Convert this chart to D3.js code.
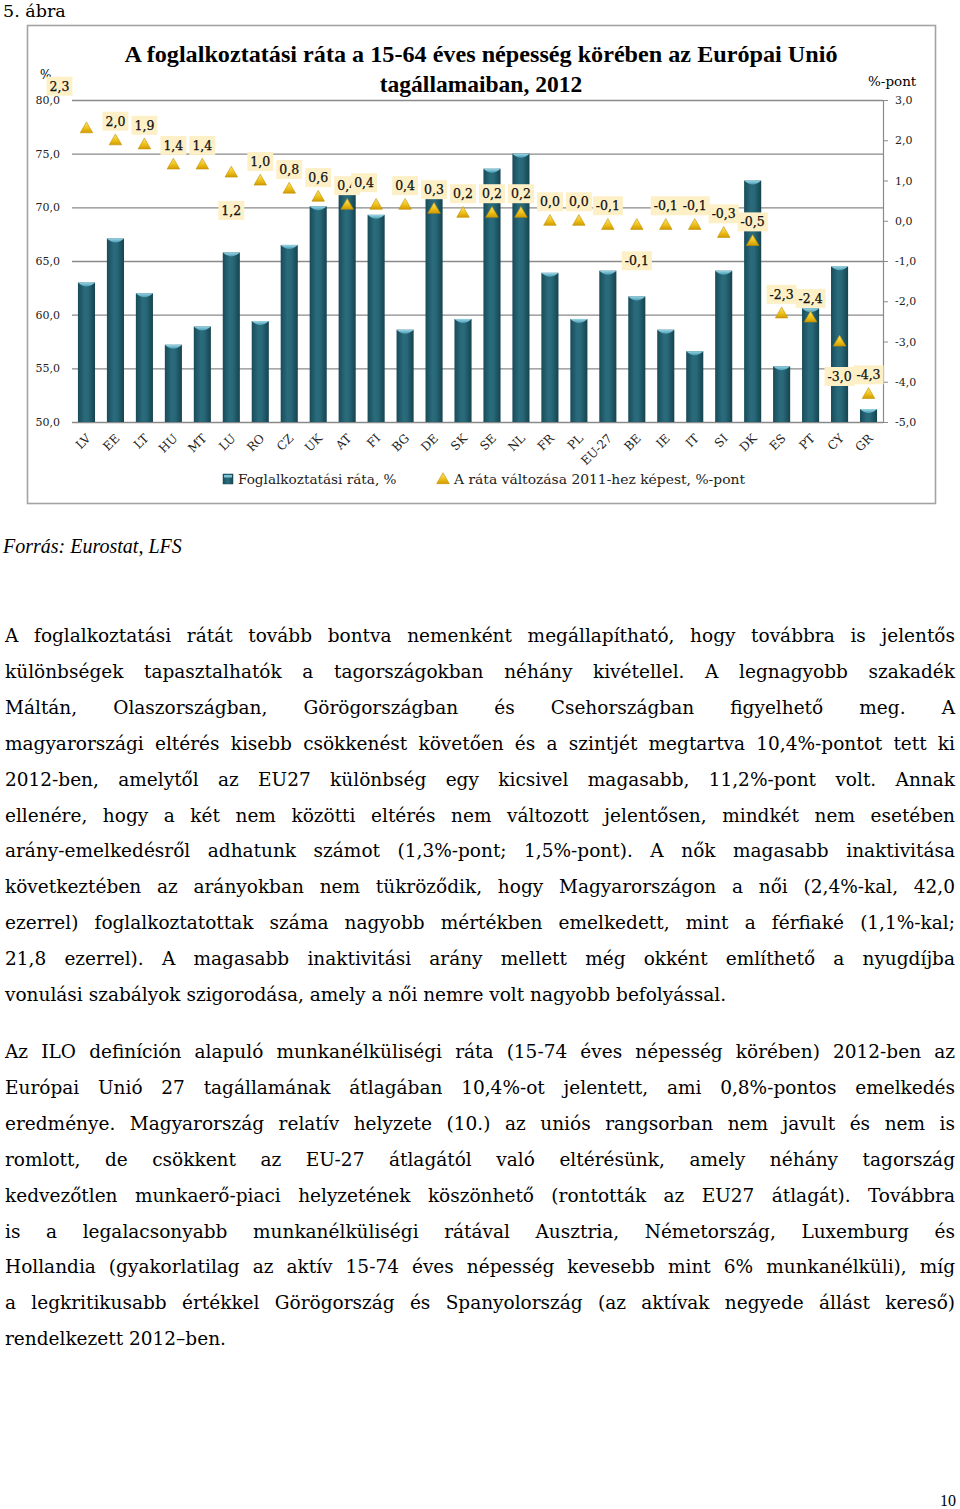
<!DOCTYPE html>
<html><head><meta charset="utf-8">
<script src="https://cdn.jsdelivr.net/npm/d3@7"></script>
<style>
body{margin:0;width:960px;height:1509px;background:#fff;position:relative;overflow:hidden;font-family:"DejaVu Serif",serif;color:#000;}
#chart{position:absolute;left:0;top:0;}
.line{position:absolute;left:5px;width:950px;white-space:nowrap;text-align:justify;text-align-last:justify;font-size:18.5px;line-height:24px;}
.line.last{text-align-last:left;}
#measure{position:absolute;visibility:hidden;white-space:nowrap;font-size:18.5px;}
</style></head><body>
<svg id="chart" width="960" height="1509"></svg>
<div id="text"></div>
<span id="measure"></span>
<script>
// ---------- data ----------
const categories = ["LV","EE","LT","HU","MT","LU","RO","CZ","UK","AT","FI","BG","DE","SK","SE","NL","FR","PL","EU-27","BE","IE","IT","SI","DK","ES","PT","CY","GR"];
const employmentRate = [63.0,67.1,62.0,57.2,58.9,65.8,59.4,66.5,70.1,72.5,69.3,58.6,72.3,59.6,73.6,75.0,63.9,59.6,64.1,61.7,58.6,56.6,64.1,72.5,55.2,60.6,64.5,51.2];
const rateChange = [2.3,2.0,1.9,1.4,1.4,1.2,1.0,0.8,0.6,0.4,0.4,0.4,0.3,0.2,0.2,0.2,0.0,0.0,-0.1,-0.1,-0.1,-0.1,-0.3,-0.5,-2.3,-2.4,-3.0,-4.3];
const changeLabels = ["2,3","2,0","1,9","1,4","1,4","1,2","1,0","0,8","0,6","0,4","0,4","0,4","0,3","0,2","0,2","0,2","0,0","0,0","-0,1","-0,1","-0,1","-0,1","-0,3","-0,5","-2,3","-2,4","-3,0","-4,3"];
const leftTicks = [50,55,60,65,70,75,80];
const rightTicks = [-5,-4,-3,-2,-1,0,1,2,3];
const titleLines = ["A foglalkoztatási ráta a 15-64 éves népesség körében az Európai Unió","tagállamaiban, 2012"];
const seriesNames = ["Foglalkoztatási ráta, %","A ráta változása 2011-hez képest, %-pont"];

const para1 = [
"A foglalkoztatási rátát tovább bontva nemenként megállapítható, hogy továbbra is jelentős",
"különbségek tapasztalhatók a tagországokban néhány kivétellel. A legnagyobb szakadék",
"Máltán, Olaszországban, Görögországban és Csehországban figyelhető meg. A",
"magyarországi eltérés kisebb csökkenést követően és a szintjét megtartva 10,4%-pontot tett ki",
"2012-ben, amelytől az EU27 különbség egy kicsivel magasabb, 11,2%-pont volt. Annak",
"ellenére, hogy a két nem közötti eltérés nem változott jelentősen, mindkét nem esetében",
"arány-emelkedésről adhatunk számot (1,3%-pont; 1,5%-pont). A nők magasabb inaktivitása",
"következtében az arányokban nem tükröződik, hogy Magyarországon a női (2,4%-kal, 42,0",
"ezerrel) foglalkoztatottak száma nagyobb mértékben emelkedett, mint a férfiaké (1,1%-kal;",
"21,8 ezerrel). A magasabb inaktivitási arány mellett még okként említhető a nyugdíjba",
"vonulási szabályok szigorodása, amely a női nemre volt nagyobb befolyással."];
const para2 = [
"Az ILO definíción alapuló munkanélküliségi ráta (15-74 éves népesség körében) 2012-ben az",
"Európai Unió 27 tagállamának átlagában 10,4%-ot jelentett, ami 0,8%-pontos emelkedés",
"eredménye. Magyarország relatív helyzete (10.) az uniós rangsorban nem javult és nem is",
"romlott, de csökkent az EU-27 átlagától való eltérésünk, amely néhány tagország",
"kedvezőtlen munkaerő-piaci helyzetének köszönhető (rontották az EU27 átlagát). Továbbra",
"is a legalacsonyabb munkanélküliségi rátával Ausztria, Németország, Luxemburg és",
"Hollandia (gyakorlatilag az aktív 15-74 éves népesség kevesebb mint 6% munkanélküli), míg",
"a legkritikusabb értékkel Görögország és Spanyolország (az aktívak negyede állást kereső)",
"rendelkezett 2012–ben."];

// ---------- layout ----------
const X0 = 72, X1 = 883, YT = 100, YB = 422;
const svg = d3.select("#chart");
const fmt = v => d3.format(".1f")(v).replace(".", ",").replace("−","-");

const defs = svg.append("defs");
const bg = defs.append("linearGradient").attr("id","barGrad").attr("x1","0").attr("x2","1").attr("y1","0").attr("y2","0");
[["0%","#184b59"],["40%","#2a6b7c"],["60%","#286878"],["100%","#15434f"]].forEach(s=>bg.append("stop").attr("offset",s[0]).attr("stop-color",s[1]));
const cg = defs.append("linearGradient").attr("id","capGrad").attr("x1","0").attr("x2","0").attr("y1","0").attr("y2","1");
[["0%","#9ad6e6"],["100%","#4a9cb3"]].forEach(s=>cg.append("stop").attr("offset",s[0]).attr("stop-color",s[1]));
const tg = defs.append("linearGradient").attr("id","triGrad").attr("x1","0").attr("x2","0").attr("y1","0").attr("y2","1");
[["0%","#fbe27a"],["55%","#efc21c"],["100%","#d29b00"]].forEach(s=>tg.append("stop").attr("offset",s[0]).attr("stop-color",s[1]));

// heading
svg.append("text").attr("x",3).attr("y",17).attr("font-family","DejaVu Serif").attr("font-size",17.5).text("5. ábra");

// chart frame
svg.append("rect").attr("x",27.5).attr("y",25.5).attr("width",908).attr("height",478)
  .attr("fill","#fff").attr("stroke","#a3a3a3").attr("stroke-width",1.6);

// title
svg.append("text").attr("x",481).attr("y",62).attr("text-anchor","middle")
  .attr("font-family","Liberation Serif").attr("font-weight","bold").attr("font-size",23.5)
  .attr("textLength",713).attr("lengthAdjust","spacingAndGlyphs").text(titleLines[0]);
svg.append("text").attr("x",481).attr("y",92).attr("text-anchor","middle")
  .attr("font-family","Liberation Serif").attr("font-weight","bold").attr("font-size",23.5)
  .text(titleLines[1]);

// axis unit labels
svg.append("text").attr("x",40).attr("y",79).attr("font-family","DejaVu Serif").attr("font-size",12).text("%");
svg.append("text").attr("x",868).attr("y",86).attr("font-family","DejaVu Serif").attr("font-size",13.5).text("%-pont");

// scales
const x = d3.scaleBand().domain(categories).range([X0,X1]).paddingInner(0.41).paddingOuter(0.205);
const yL = d3.scaleLinear().domain([50,80]).range([YB,YT]);
const yR = d3.scaleLinear().domain([-5,3]).range([YB,YT]);

// left axis + gridlines
const gl = svg.append("g").attr("transform",`translate(${X0},0)`)
  .call(d3.axisLeft(yL).tickValues(leftTicks).tickSize(-(X1-X0)).tickPadding(12).tickFormat(fmt));
gl.select(".domain").remove();
gl.selectAll(".tick line").attr("stroke","#8a8a8a").attr("stroke-width",1.4);
gl.selectAll(".tick text").attr("font-family","DejaVu Serif").attr("font-size",11).attr("fill","#222");

// right axis
const gr = svg.append("g").attr("transform",`translate(${X1},0)`)
  .call(d3.axisRight(yR).tickValues(rightTicks).tickSize(5).tickSizeOuter(0).tickPadding(7).tickFormat(fmt));
gr.select(".domain").attr("stroke","#8a8a8a").attr("stroke-width",1.2);
gr.selectAll(".tick line").attr("stroke","#8a8a8a");
gr.selectAll(".tick text").attr("font-family","DejaVu Serif").attr("font-size",11).attr("fill","#222");

// x axis labels
const gx = svg.append("g").attr("transform",`translate(0,${YB})`).call(d3.axisBottom(x).tickSize(0));
gx.select(".domain").remove();
gx.selectAll(".tick text").attr("x",0).attr("y",0).attr("dy",0)
  .attr("text-anchor","end").attr("transform","translate(5,17) rotate(-45)")
  .attr("font-family","DejaVu Serif").attr("font-size",12).attr("fill","#222");

// bars
const bw = x.bandwidth();
const bars = svg.append("g").selectAll("g").data(categories).join("g");
bars.append("rect").attr("x",d=>x(d)).attr("width",bw)
  .attr("y",(d,i)=>yL(employmentRate[i])).attr("height",(d,i)=>YB-yL(employmentRate[i]))
  .attr("fill","url(#barGrad)");
bars.append("path").attr("d",(d,i)=>{
  const x0=x(d), x1=x(d)+bw, y=yL(employmentRate[i]), cx=x0+bw/2;
  return `M${x0},${y} L${x1},${y} Q${cx},${y+8} ${x0},${y} Z`;
}).attr("fill","url(#capGrad)");

// triangles
const tri = d3.symbol(d3.symbolTriangle, 68);
svg.append("g").selectAll("path").data(categories).join("path")
  .attr("d",tri)
  .attr("transform",(d,i)=>`translate(${x(d)+bw/2},${yR(rateChange[i])+1})`)
  .attr("fill","url(#triGrad)").attr("stroke","#c39200").attr("stroke-width",0.6);

// data labels
const labelNudge = {LV:[-27,-23], LU:[0,57], FI:[-12,-3], BE:[0,55], CY:[0,54]};
const lg = svg.append("g");
categories.forEach((c,i)=>{
  const n = labelNudge[c] || [0,0];
  const cx = x(c)+bw/2+n[0], cy = yR(rateChange[i])-19+n[1];
  const g = lg.append("g");
  const t = g.append("text").attr("x",cx).attr("y",cy).attr("dy","0.36em").attr("text-anchor","middle")
    .attr("font-family","DejaVu Serif").attr("font-size",12.5).attr("fill","#111")
    .attr("stroke","#111").attr("stroke-width",0.25).text(changeLabels[i]);
  const w = t.node().getComputedTextLength();
  g.insert("rect","text").attr("x",cx-w/2-3).attr("y",cy-9.5).attr("width",w+6).attr("height",19).attr("fill","#fdf0c7");
});

// legend
const leg = svg.append("g");
leg.append("rect").attr("x",223).attr("y",474).attr("width",10).attr("height",10).attr("fill","url(#barGrad)").attr("stroke","#1a4f5d").attr("stroke-width",0.5);
leg.append("rect").attr("x",224).attr("y",475).attr("width",8).attr("height",2.5).attr("fill","#7cc3d6");
leg.append("text").attr("x",238).attr("y",484).attr("font-family","DejaVu Serif").attr("font-size",13.6).attr("fill","#222").text(seriesNames[0]);
leg.append("path").attr("d",d3.symbol(d3.symbolTriangle,70)).attr("transform","translate(443,480)")
  .attr("fill","url(#triGrad)").attr("stroke","#c39200").attr("stroke-width",0.6);
leg.append("text").attr("x",454).attr("y",484).attr("font-family","DejaVu Serif").attr("font-size",13.6).attr("fill","#222")
  .attr("textLength",291).attr("lengthAdjust","spacingAndGlyphs").text(seriesNames[1]);

// source
svg.append("text").attr("x",3).attr("y",553).attr("font-family","Liberation Serif").attr("font-style","italic").attr("font-size",20).text("Forrás: Eurostat, LFS");

// page number
svg.append("text").attr("x",956).attr("y",1506).attr("text-anchor","end").attr("font-family","Liberation Serif").attr("font-size",16).text("10");

// body text, line by line justified
const meas = document.getElementById("measure");
let maxW = 0;
para1.concat(para2).forEach(l=>{ meas.textContent = l; maxW = Math.max(maxW, meas.getBoundingClientRect().width); });
let fs = 18.5;
if (maxW > 948) fs = 18.5*948/maxW;
const tdiv = d3.select("#text");
function addPara(lines, top, step){
  lines.forEach((l,i)=>{
    tdiv.append("div").attr("class","line"+(i===lines.length-1?" last":""))
      .style("top",(top+i*step-13)+"px").style("font-size",fs+"px").text(l);
  });
}
addPara(para1, 637, 35.9);
addPara(para2, 1053, 35.9);
</script>
</body></html>
